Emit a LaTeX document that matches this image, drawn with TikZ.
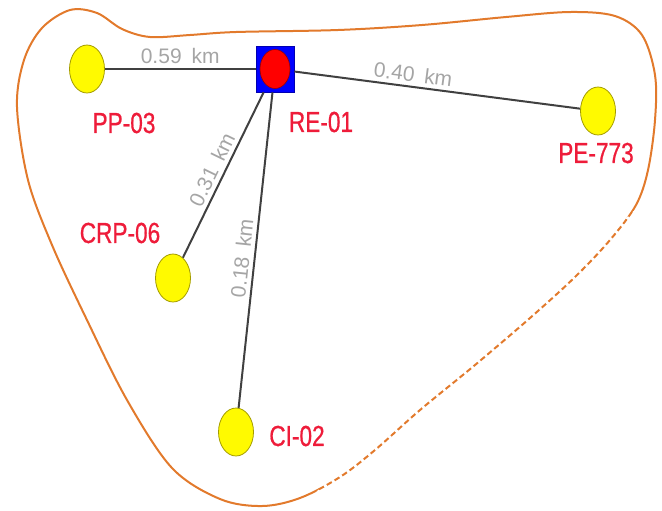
\documentclass[tikz,border=0pt]{standalone}
\usepackage{fontspec}
\setmainfont{Liberation Sans}
\newfontfamily\etiqfont{Liberation Sans}[FakeBold=0.8]
\usetikzlibrary{shapes.geometric}

\definecolor{contorno}{RGB}{226,122,44}
\definecolor{rojoet}{RGB}{238,28,58}
\definecolor{grisdist}{RGB}{165,165,165}
\definecolor{amarillo}{RGB}{255,250,0}

\tikzset{
  pozo/.style={ellipse,draw=olive!80!yellow,fill=amarillo,line width=0.4pt,
    minimum width=17.5pt,minimum height=24pt,inner sep=0pt},
  reserv/.style={rectangle,fill=blue,draw=blue!70!black,line width=0.4pt,
    minimum width=19pt,minimum height=23pt,inner sep=0pt},
  nucleo/.style={ellipse,fill=red,draw=red!60!black,line width=0.3pt,
    minimum width=15pt,minimum height=19.5pt,inner sep=0pt},
  nombre/.style={text=rojoet,font=\etiqfont\fontsize{14.5}{16}\selectfont,xscale=0.78},
  tramo/.style={draw=black!75,line width=1pt},
  dist/.style={text=grisdist,font=\fontsize{10.5}{12}\selectfont,inner sep=1pt}
}

\begin{document}
\begin{tikzpicture}[x=0.5pt,y=-0.5pt]
\useasboundingbox (0,0) rectangle (662,510);
% limite de la zona
\path[save path=\zona] plot[smooth cycle,tension=0.55] coordinates {
  (17,107) (24,60) (42,28) (70,10) (97,13) (122,29) (150,37) (190,35)
  (236,32) (338,30) (422,25) (506,17) (570,12) (615,16) (642,35) (655,75)
  (655,120) (648,170) (636,205) (610,240) (575,277) (530,318) (475,365)
  (420,410) (375,450) (340,477) (300,498) (262,506) (220,499) (172,468)
  (127,400) (86,318) (52,245) (28,180)};
\draw[contorno,line width=1pt,use path=\zona];
\begin{scope}
  \clip (662,186) -- (662,515) -- (290,515) -- cycle;
  \draw[white,line width=1.6pt,dash pattern=on 1.5pt off 3pt,use path=\zona];
\end{scope}

\node[reserv] (re01) at (275,69) {};
\node[nucleo] (re01c) at (re01) {};
\node[pozo] (pp03) at (87,69) {};
\node[pozo] (pe773) at (598,111) {};
\node[pozo] (crp06) at (173,278) {};
\node[pozo] (ci02) at (236,432) {};

\draw[tramo] (pp03) -- node[dist,above=1pt] (d1) {0.59\kern5pt km} (re01);
\draw[tramo] (re01) -- node[dist,sloped,above=1pt,pos=0.41] (d2) {0.40\kern5pt km} (pe773);
\draw[tramo] (crp06) -- node[dist,sloped,above=1pt] (d3) {0.31\kern5pt km} (re01);
\draw[tramo] (ci02) -- node[dist,sloped,above=1pt,pos=0.47] (d4) {0.18\kern5pt km} (re01);

\node[nombre] (lpp03) at (124,123) {PP-03};
\node[nombre] (lre01) at (321,122) {RE-01};
\node[nombre] (lpe773) at (596,153) {PE-773};
\node[nombre] (lcrp06) at (120,233) {CRP-06};
\node[nombre] (lci02) at (297,436) {CI-02};
\end{tikzpicture}
\end{document}
